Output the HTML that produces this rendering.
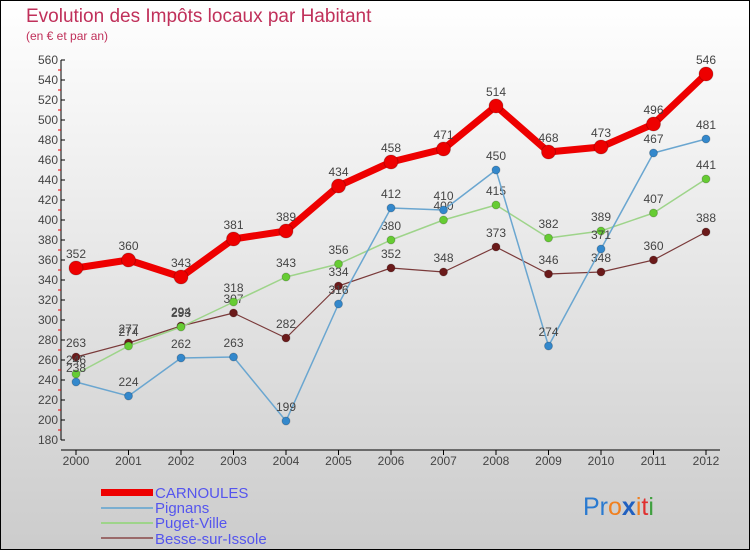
<!DOCTYPE html>
<html><head><meta charset="utf-8"><style>
body{margin:0;width:750px;height:550px;overflow:hidden}
svg{display:block;font-family:"Liberation Sans",sans-serif}
</style></head><body>
<svg id="c" width="750" height="550" xmlns="http://www.w3.org/2000/svg">
<defs><linearGradient id="bg" x1="0" y1="0" x2="0" y2="1"><stop offset="0" stop-color="#ffffff"/><stop offset="1" stop-color="#cccccc"/></linearGradient></defs>
<rect x="0.5" y="0.5" width="749" height="549" fill="url(#bg)" stroke="#000"/>
<text x="26" y="22" font-size="19" fill="#c0305a">Evolution des Impôts locaux par Habitant</text>
<text x="26" y="40" font-size="12" fill="#c0305a">(en € et par an)</text>
<g id="axes"></g><g id="series"></g>
<g>
<rect x="101" y="489" width="52" height="7" fill="#e00"/>
<text x="155" y="498" font-size="15" fill="#5555ee">CARNOULES</text>
<rect x="101" y="507" width="52" height="2" fill="#7aaed0"/>
<text x="155" y="513" font-size="15" fill="#5555ee">Pignans</text>
<rect x="101" y="522" width="52" height="2" fill="#9ed48a"/>
<text x="155" y="528" font-size="15" fill="#5555ee">Puget-Ville</text>
<rect x="101" y="537" width="52" height="2" fill="#9a6a6a"/>
<text x="155" y="544" font-size="15" fill="#5555ee">Besse-sur-Issole</text>
</g>
<text x="583" y="515" font-size="25"><tspan fill="#2a7ad0">Pr</tspan><tspan fill="#f08020">o</tspan><tspan fill="#2060c0" font-weight="bold">x</tspan><tspan fill="#f08020">i</tspan><tspan fill="#e03030">t</tspan><tspan fill="#40a040">i</tspan></text>
</svg>
<script>
const years=[2000,2001,2002,2003,2004,2005,2006,2007,2008,2009,2010,2011,2012];
const carnoules=[352,360,343,381,389,434,458,471,514,468,473,496,546];
const pignans=[238,224,262,263,199,316,412,410,450,274,371,467,481];
const puget=[246,274,293,318,343,356,380,400,415,382,389,407,441];
const besse=[263,277,294,307,282,334,352,348,373,346,348,360,388];
const yTicks=[180,200,220,240,260,280,300,320,340,360,380,400,420,440,460,480,500,520,540,560];
const NS="http://www.w3.org/2000/svg";
const X=i=>76+i*52.5, Y=v=>60+(560-v);
function mk(t,a,p){const e=document.createElementNS(NS,t);for(const k in a)e.setAttribute(k,a[k]);p.appendChild(e);return e;}
const ax=document.getElementById('axes');
const yl=mk('line',{x1:61,y1:60,x2:61,y2:440,stroke:'#000','stroke-width':1},ax);


yTicks.forEach(v=>{
 mk('line',{x1:61,y1:Y(v),x2:65,y2:Y(v),stroke:'#000'},ax);
 if(v<560) mk('line',{x1:58,y1:Y(v+10),x2:61,y2:Y(v+10),stroke:'#e00'},ax);
 const t=mk('text',{x:58,y:Y(v)+4,'font-size':12,fill:'#444','text-anchor':'end'},ax);t.textContent=v;
 
 
});
const xl=mk('line',{x1:61,y1:450,x2:720,y2:450,stroke:'#000'},ax);


years.forEach((y,i)=>{
 mk('line',{x1:X(i),y1:450,x2:X(i),y2:455,stroke:'#000'},ax);
 const t=mk('text',{x:X(i),y:465,'font-size':12,fill:'#444','text-anchor':'middle'},ax);t.textContent=y;
 
 
});
const sg=document.getElementById('series');
function draw(vals,color,w,r,dot,name){
 const g=mk('g',{},sg);
 
 
 mk('polyline',{points:vals.map((v,i)=>X(i)+','+Y(v)).join(' '),fill:'none',stroke:color,'stroke-width':w,'stroke-linejoin':'round'},g);
 vals.forEach((v,i)=>{
  const c=mk('circle',{cx:X(i),cy:Y(v),r:r,fill:dot,stroke:'rgba(0,0,0,0.2)'},g);
  
  
  const t=mk('text',{x:X(i),y:Y(v)-10,'font-size':12,fill:'#444','text-anchor':'middle'},g);t.textContent=v;
  
  
 });
}
draw(besse,'#7a3a3a',1.2,4,'#6b1a1a','besse-series');
draw(puget,'#9ed48a',1.5,4,'#66cc33','puget-ville-series');
draw(pignans,'#6aa6d0',1.5,4,'#3388cc','pignans-series');
draw(carnoules,'#ee0000',7,7,'#ee0000','carnoules-series');
</script>
</body></html>
